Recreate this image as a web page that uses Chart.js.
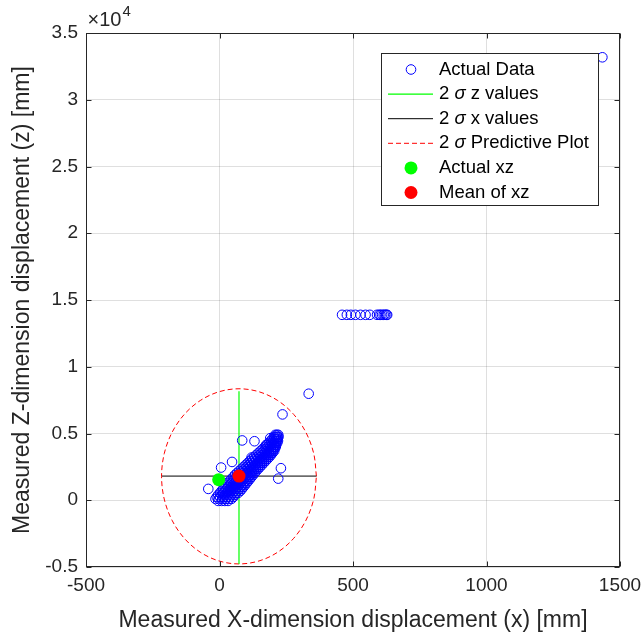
<!DOCTYPE html>
<html>
<head>
<meta charset="utf-8">
<script src="https://cdn.jsdelivr.net/npm/chart.js@4.4.1/dist/chart.umd.min.js"></script>
<style>
  html, body { margin: 0; padding: 0; background: #fff; }
  #wrap { width: 642px; height: 637px; }
</style>
</head>
<body>
<div id="wrap"><canvas id="chart" width="642" height="637"></canvas></div>
<script>
'use strict';

/* ---------------- data ---------------- */
const xTickValues = [-500, 0, 500, 1000, 1500];
const zTickValues = [-5000, 0, 5000, 10000, 15000, 20000, 25000, 30000, 35000];

// main diagonal cluster: one z level per row, x positions read across the band
const clusterZLevels = [-50, 100, 250, 400, 550, 700, 850, 1000, 1150, 1300, 1450, 1600,
  1750, 1900, 2050, 2200, 2350, 2500, 2650, 2800, 2950, 3100, 3250, 3400, 3550, 3700,
  3850, 4000, 4150, 4300, 4450, 4600, 4750, 4900];
const clusterXByLevel = [
  [-5, 8, 20, 32],
  [-15, -3, 10, 22, 35, 45],
  [-10, 2, 15, 28, 40, 52],
  [-5, 8, 20, 32, 45, 57],
  [2, 14, 26, 38, 50, 62, 70],
  [8, 20, 32, 44, 56, 68, 78],
  [14, 26, 38, 50, 62, 74, 84],
  [20, 32, 44, 56, 68, 80, 90],
  [26, 38, 50, 62, 74, 86, 96],
  [32, 44, 56, 68, 80, 92, 102],
  [38, 50, 62, 74, 86, 98, 108],
  [45, 57, 69, 81, 93, 104, 114],
  [52, 64, 76, 88, 100, 110, 120],
  [58, 70, 82, 94, 106, 116, 126],
  [66, 78, 90, 102, 113, 122, 132],
  [74, 86, 98, 110, 120, 129, 138],
  [82, 94, 106, 118, 128, 136, 145],
  [90, 102, 114, 126, 136, 144, 152],
  [98, 110, 122, 134, 144, 151, 159],
  [106, 118, 130, 142, 152, 159, 166],
  [114, 126, 138, 150, 159, 166, 173],
  [122, 134, 146, 158, 166, 173, 180],
  [130, 142, 154, 165, 173, 180, 187],
  [138, 150, 162, 172, 180, 187, 193],
  [146, 158, 170, 179, 187, 194, 199],
  [154, 166, 177, 186, 194, 200, 205],
  [162, 174, 184, 193, 201, 206],
  [170, 181, 191, 200, 207, 211],
  [178, 188, 198, 206, 212],
  [185, 195, 204, 211, 216],
  [192, 201, 209, 215, 219],
  [198, 206, 213, 218],
  [204, 211, 217, 221],
  [209, 215, 220],
];

// scattered points off the main cluster
const outlierX = [85, 131, 236, 334, 230, 220, 47, 6, -42, 158, 1434, 175, 190, 120];
const outlierZ = [4480, 4420, 6430, 7980, 2400, 1620, 2870, 2450, 850, 2830, 33180, 4150, 4650, 3200];

// horizontal run of points near z = 1.39e4
const rowX = [459, 477, 492, 509, 528, 547, 563, 590, 598, 603, 609, 615, 620, 625, 628];
const rowZ = [13890, 13890, 13890, 13890, 13890, 13890, 13890, 13890, 13890, 13890, 13890, 13890, 13890, 13890, 13890];

// 2 sigma lines
const sigmaZX = [73, 73];
const sigmaZZ = [-4770, 8170];
const sigmaXX = [-216, 363];
const sigmaXZ = [1810, 1810];

// 2 sigma predictive ellipse
const ellipseX = [363, 353, 324, 278, 218, 148, 73, -2, -72, -132, -178, -207, -217,
  -207, -178, -132, -72, -2, 73, 148, 218, 278, 324, 353, 363];
const ellipseZ = [1790, 3488, 5070, 6428, 7471, 8127, 8350, 8127, 7471, 6428, 5070, 3488, 1790,
  92, -1490, -2848, -3891, -4547, -4770, -4547, -3891, -2848, -1490, 92, 1790];

const actualX = [-3];
const actualZ = [1540];
const meanX = [73];
const meanZ = [1810];

const legendLabels = ['Actual Data', '2 σ z values', '2 σ x values', '2 σ Predictive Plot', 'Actual xz', 'Mean of xz'];

/* ---------------- helpers ---------------- */
const pts = (xs, zs) => xs.map((v, i) => ({ x: v, y: zs[i] }));

const clusterPoints = [];
clusterZLevels.forEach((z, i) => {
  clusterXByLevel[i].forEach(x => clusterPoints.push({ x, y: z }));
});

const BLUE = 'rgb(0,0,255)';
const GREEN = 'rgb(0,255,0)';
const RED = 'rgb(255,0,0)';
const AXIS = 'rgb(38,38,38)';
const FONT = '"Liberation Sans", Arial, Helvetica, sans-serif';

/* ---------------- box, inward ticks, exponent, legend ---------------- */
const matlabDecor = {
  id: 'matlabDecor',
  afterDraw(chart) {
    const { ctx, chartArea: a, scales: { x, y } } = chart;
    const L = Math.round(a.left) + 0.5, R = Math.round(a.right) - 0.5;
    const T = Math.round(a.top) + 0.5, B = Math.round(a.bottom) - 0.5;
    ctx.save();
    ctx.strokeStyle = AXIS;
    ctx.lineWidth = 1;
    ctx.strokeRect(L, T, R - L, B - T);
    ctx.beginPath();
    xTickValues.forEach(v => {
      const px = Math.round(x.getPixelForValue(v)) + 0.5;
      ctx.moveTo(px, B); ctx.lineTo(px, B - 5);
      ctx.moveTo(px, T); ctx.lineTo(px, T + 5);
    });
    zTickValues.forEach(v => {
      const py = Math.round(y.getPixelForValue(v)) + 0.5;
      ctx.moveTo(L, py); ctx.lineTo(L + 5, py);
      ctx.moveTo(R, py); ctx.lineTo(R - 5, py);
    });
    ctx.stroke();

    // x10^4 exponent
    ctx.fillStyle = AXIS;
    ctx.textBaseline = 'alphabetic';
    ctx.textAlign = 'left';
    ctx.font = '20px ' + FONT;
    ctx.fillText('×10', L + 1, T - 8);
    const w = ctx.measureText('×10').width;
    ctx.font = '15px ' + FONT;
    ctx.fillText('4', L + 2 + w, T - 18);

    // legend
    const bx = 381.5, by = 53.5, bw = 217, bh = 152;
    ctx.fillStyle = '#fff';
    ctx.fillRect(bx, by, bw, bh);
    ctx.strokeStyle = AXIS;
    ctx.strokeRect(bx, by, bw, bh);
    const rowY = i => 69.5 + i * 24.6;
    const symX = 411;
    ctx.lineWidth = 1;
    ctx.strokeStyle = BLUE;
    ctx.beginPath(); ctx.arc(symX, rowY(0), 4.8, 0, Math.PI * 2); ctx.stroke();
    const seg = (i, color, dash, lw) => {
      ctx.strokeStyle = color;
      ctx.lineWidth = lw;
      ctx.setLineDash(dash);
      ctx.beginPath(); ctx.moveTo(388, rowY(i)); ctx.lineTo(433, rowY(i)); ctx.stroke();
      ctx.setLineDash([]);
    };
    seg(1, GREEN, [], 1.2);
    seg(2, '#000', [], 1);
    seg(3, RED, [5, 3], 1);
    ctx.fillStyle = GREEN;
    ctx.beginPath(); ctx.arc(symX, rowY(4), 6.5, 0, Math.PI * 2); ctx.fill();
    ctx.fillStyle = RED;
    ctx.beginPath(); ctx.arc(symX, rowY(5), 6.5, 0, Math.PI * 2); ctx.fill();
    // labels, sigma set in italic like the TeX interpreter
    ctx.fillStyle = '#000';
    ctx.textBaseline = 'middle';
    legendLabels.forEach((txt, i) => {
      let cx = 439;
      txt.split(/(σ)/).forEach(part => {
        ctx.font = (part === 'σ' ? 'italic ' : '') + '18.5px ' + FONT;
        ctx.fillText(part, cx, rowY(i));
        cx += ctx.measureText(part).width;
      });
    });
    ctx.restore();
  }
};

/* ---------------- chart ---------------- */
const ctx = document.getElementById('chart').getContext('2d');

new Chart(ctx, {
  type: 'scatter',
  data: {
    datasets: [
      {
        label: legendLabels[0],
        data: clusterPoints.concat(pts(outlierX, outlierZ), pts(rowX, rowZ)),
        pointStyle: 'circle',
        pointRadius: 4.8,
        pointBorderWidth: 1,
        pointBorderColor: BLUE,
        pointBackgroundColor: 'rgba(0,0,0,0)',
        showLine: false,
        order: 2,
      },
      {
        label: legendLabels[1],
        data: pts(sigmaZX, sigmaZZ),
        showLine: true, pointRadius: 0,
        borderColor: GREEN, borderWidth: 1.2,
        order: 3,
      },
      {
        label: legendLabels[2],
        data: pts(sigmaXX, sigmaXZ),
        showLine: true, pointRadius: 0,
        borderColor: '#000', borderWidth: 1,
        order: 3,
      },
      {
        label: legendLabels[3],
        data: pts(ellipseX, ellipseZ),
        showLine: true, pointRadius: 0,
        borderColor: RED, borderWidth: 1, borderDash: [5, 3],
        tension: 0.34,
        order: 3,
      },
      {
        label: legendLabels[4],
        data: pts(actualX, actualZ),
        pointRadius: 6.5, pointBorderWidth: 0,
        pointBackgroundColor: GREEN,
        order: 1,
      },
      {
        label: legendLabels[5],
        data: pts(meanX, meanZ),
        pointRadius: 6.5, pointBorderWidth: 0,
        pointBackgroundColor: RED,
        order: 1,
      },
    ],
  },
  options: {
    responsive: false,
    animation: false,
    devicePixelRatio: 1,
    layout: { padding: { top: 33, right: 22, left: 0, bottom: 0 } },
    plugins: {
      legend: { display: false },
      tooltip: { enabled: false },
    },
    scales: {
      x: {
        type: 'linear', min: -500, max: 1500,
        afterBuildTicks: s => { s.ticks = xTickValues.map(v => ({ value: v })); },
        afterFit: s => { s.height = 70; s.paddingLeft = 0; s.paddingRight = 0; },
        ticks: {
          color: AXIS, font: { family: FONT, size: 19 }, padding: 7, maxRotation: 0,
          callback: v => String(v),
        },
        grid: { color: 'rgba(38,38,38,0.15)', drawTicks: false },
        border: { display: false },
        title: {
          display: true,
          text: 'Measured X-dimension displacement (x) [mm]',
          color: AXIS,
          font: { family: FONT, size: 23 },
          padding: { top: 0, bottom: 3 },
        },
      },
      y: {
        type: 'linear', min: -5000, max: 35000,
        afterBuildTicks: s => { s.ticks = zTickValues.map(v => ({ value: v })); },
        afterFit: s => { s.width = 86; s.paddingTop = 0; s.paddingBottom = 0; },
        ticks: {
          color: AXIS, font: { family: FONT, size: 19 }, padding: 8,
          callback: v => String(v / 10000),
        },
        grid: { color: 'rgba(38,38,38,0.15)', drawTicks: false },
        border: { display: false },
        title: {
          display: true,
          text: 'Measured Z-dimension displacement (z) [mm]',
          color: AXIS,
          font: { family: FONT, size: 23 },
          padding: { top: 9, bottom: 0 },
        },
      },
    },
  },
  plugins: [matlabDecor],
});
</script>
</body>
</html>
